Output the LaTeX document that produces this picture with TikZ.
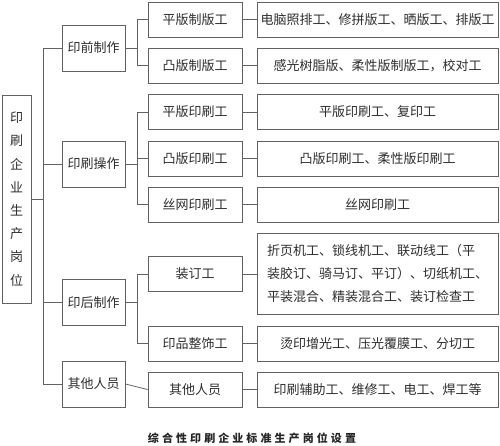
\documentclass[tikz,border=0pt]{standalone}
\usepackage{fontspec}
\setmainfont{Noto Sans CJK SC}
\newfontfamily\capfont[LetterSpace=28]{Noto Sans CJK SC}
\begin{document}
\begin{tikzpicture}[x=1pt,y=-1pt,
  lnk/.style={draw=black!62,line width=0.8pt},
  bx/.style={draw=black!62,line width=0.8pt,rectangle,inner sep=0pt,text=black!82,font=\fontsize{13}{16}\selectfont},
  rootbox/.style={bx,minimum width=29pt,minimum height=208pt,align=center,font=\fontsize{13}{23.2}\selectfont},
  lone/.style={bx,minimum width=63pt,minimum height=46pt},
  ltwo/.style={bx,minimum width=94pt,minimum height=35pt},
  lthree/.style={bx,minimum width=241pt,minimum height=35pt}]
\useasboundingbox (0,0) rectangle (500,446);
\fill[white] (0,0) rectangle (500,446);
% root
\node[rootbox] (root) at (16.5,199) {印\\刷\\企\\业\\生\\产\\岗\\位};
% level 1
\node[lone] (qa) at (93.5,48) {印前制作};
\node[lone] (qb) at (93.5,164) {印刷操作};
\node[lone] (qc) at (93.5,302.5) {印后制作};
\node[lone] (qd) at (93.5,384) {其他人员};
% level 2
\node[ltwo] (ta) at (195,19.5) {平版制版工};
\node[ltwo] (tb) at (195,65.5) {凸版制版工};
\node[ltwo] (tc) at (195,112) {平版印刷工};
\node[ltwo] (td) at (195,158.5) {凸版印刷工};
\node[ltwo] (te) at (195,204.5) {丝网印刷工};
\node[ltwo] (tf) at (195,274) {装订工};
\node[ltwo] (tg) at (195,343.5) {印品整饰工};
\node[ltwo] (th) at (195,389.5) {其他人员};
% level 3
\node[lthree] (ha) at (377.5,19.5) {电脑照排工、修拼版工、晒版工、排版工};
\node[lthree] (hb) at (377.5,65.5) {感光树脂版、柔性版制版工，校对工};
\node[lthree] (hc) at (377.5,112) {平版印刷工、复印工};
\node[lthree] (hd) at (377.5,158.5) {凸版印刷工、柔性版印刷工};
\node[lthree] (he) at (377.5,204.5) {丝网印刷工};
\node[lthree,minimum height=81pt,align=left,font=\fontsize{13}{23}\selectfont] (hf) at (377.5,273.5)
  {折页机工、锁线机工、联动线工（平\\装胶订、骑马订、平订）、切纸机工、\\平装混合、精装混合工、装订检查工};
\node[lthree] (hg) at (377.5,343.5) {烫印增光工、压光覆膜工、分切工};
\node[lthree] (hh) at (377.5,389.5) {印刷辅助工、维修工、电工、焊工等};
% caption
\node[inner sep=0pt,text=black!85,font=\capfont\bfseries\fontsize{11}{13}\selectfont] (cap) at (252,438) {综合性印刷企业标准生产岗位设置};
% trunk
\coordinate (tr) at (43,0);
\coordinate (br) at (137,0);
\draw[lnk] (root.east) -- (root.east -| tr);
\draw[lnk] (qa.west -| tr) -- (qd.west -| tr);
\foreach \n in {qa,qb,qc,qd} \draw[lnk] (\n.west) -- (\n.west -| tr);
% branches
\foreach \n in {qa,qb,qc} \draw[lnk] (\n.east) -- (\n.east -| br);
\draw[lnk] (ta.west -| br) -- (tb.west -| br);
\draw[lnk] (tc.west -| br) -- (te.west -| br);
\draw[lnk] (tf.west -| br) -- (tg.west -| br);
\foreach \n in {ta,tb,tc,td,te,tf,tg} \draw[lnk] (\n.west) -- (\n.west -| br);
\draw[lnk] (qd.east) -- (th.west);
% level2 -> level3
\draw[lnk] (ta.east) -- (ha.west);
\draw[lnk] (tb.east) -- (hb.west);
\draw[lnk] (tc.east) -- (hc.west);
\draw[lnk] (td.east) -- (hd.west);
\draw[lnk] (te.east) -- (he.west);
\draw[lnk] (tf.east) -- (tf.east -| hf.west);
\draw[lnk] (tg.east) -- (hg.west);
\draw[lnk] (th.east) -- (hh.west);
\end{tikzpicture}
\end{document}
